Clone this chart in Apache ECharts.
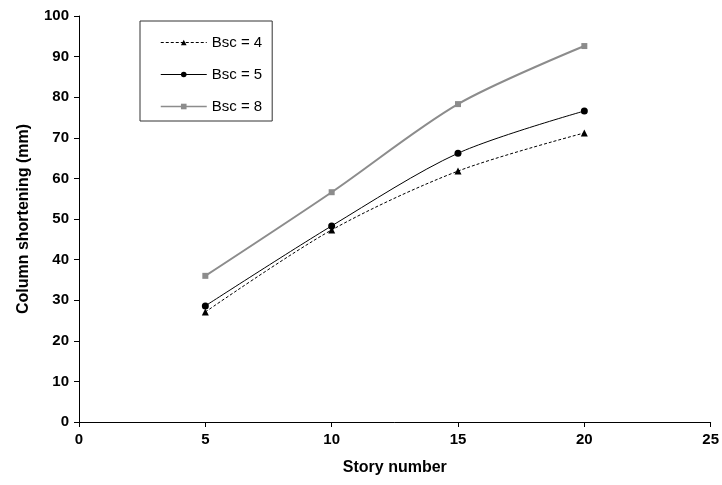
<!DOCTYPE html>
<html>
<head>
<meta charset="utf-8">
<script src="https://cdn.jsdelivr.net/npm/echarts@6/dist/echarts.min.js"></script>
<style>html,body{margin:0;padding:0;background:#fff;}#c{width:722px;height:485px;}</style>
</head>
<body>
<div id="c"></div>
<script>
var stories = [5, 10, 15, 20];
var bsc4 = [27.1, 47.3, 61.8, 71.2];
var bsc5 = [28.6, 48.3, 66.2, 76.6];
var bsc8 = [36.0, 56.6, 78.3, 92.6];
var xTicks = [0, 5, 10, 15, 20, 25];
var yTicks = [0, 10, 20, 30, 40, 50, 60, 70, 80, 90, 100];
var names = ['Bsc = 4', 'Bsc = 5', 'Bsc = 8'];

function pairs(v) { return stories.map(function (s, i) { return [s, v[i]]; }); }

var font = 'Liberation Sans, Arial, sans-serif';
var chart = echarts.init(document.getElementById('c'), null, {renderer: 'canvas'});
chart.setOption({
  animation: false,
  backgroundColor: '#fff',
  grid: {left: 79, right: 11, top: 16, bottom: 63, containLabel: false},
  legend: {
    orient: 'vertical', left: 140, top: 21,
    data: [
      {name: names[0], lineStyle: {width: 1}},
      {name: names[1], lineStyle: {width: 1}},
      {name: names[2], lineStyle: {width: 1.5}}
    ],
    backgroundColor: '#fff',
    borderColor: '#333', borderWidth: 1,
    padding: [14, 10, 7, 20],
    itemWidth: 46, itemHeight: 7, itemGap: 17,
    textStyle: {fontFamily: font, fontSize: 15, color: '#000'}
  },
  xAxis: {
    type: 'value', min: 0, max: 25, interval: 5,
    name: 'Story number', nameLocation: 'middle', nameGap: 38,
    nameTextStyle: {fontFamily: font, fontSize: 16, fontWeight: 'bold', color: '#000'},
    axisLine: {lineStyle: {color: '#000', width: 1}},
    axisTick: {show: true, length: 5, inside: false, lineStyle: {color: '#000'}},
    axisLabel: {fontFamily: font, fontSize: 15, fontWeight: 'bold', color: '#000', margin: 10,
      formatter: function (v) { return xTicks.indexOf(v) >= 0 ? String(v) : ''; }},
    splitLine: {show: false}
  },
  yAxis: {
    type: 'value', min: 0, max: 100, interval: 10,
    name: 'Column shortening (mm)', nameLocation: 'middle', nameGap: 47,
    nameTextStyle: {fontFamily: font, fontSize: 16, fontWeight: 'bold', color: '#000'},
    axisLine: {show: true, lineStyle: {color: '#000', width: 1}},
    axisTick: {show: true, length: 5, inside: false, lineStyle: {color: '#000'}},
    axisLabel: {fontFamily: font, fontSize: 15, fontWeight: 'bold', color: '#000', margin: 10,
      formatter: function (v) { return yTicks.indexOf(v) >= 0 ? String(v) : ''; }},
    splitLine: {show: false}
  },
  series: [
    {name: names[0], type: 'line', data: pairs(bsc4), smooth: 0.3,
      symbol: 'triangle', symbolSize: 7,
      lineStyle: {color: '#000', width: 1, type: [3, 2]},
      itemStyle: {color: '#000'}},
    {name: names[1], type: 'line', data: pairs(bsc5), smooth: 0.3,
      symbol: 'circle', symbolSize: 7,
      lineStyle: {color: '#000', width: 1, type: 'solid'},
      itemStyle: {color: '#000'}},
    {name: names[2], type: 'line', data: pairs(bsc8), smooth: 0.3,
      symbol: 'rect', symbolSize: 6,
      lineStyle: {color: '#8c8c8c', width: 2, type: 'solid'},
      itemStyle: {color: '#8c8c8c'}}
  ]
});
</script>
</body>
</html>
